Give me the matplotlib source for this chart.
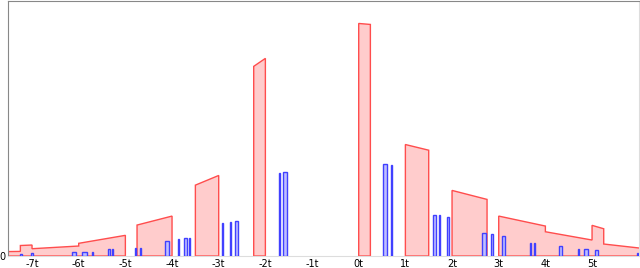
import matplotlib
matplotlib.use("Agg")
import matplotlib.pyplot as plt

# Tick positions (in units of t) and labels
tick_vals = [-7, -6, -5, -4, -3, -2, -1, 0, 1, 2, 3, 4, 5]
tick_labels = [f"{k}t" for k in tick_vals]

# Red filled regions: outline vertices (t, value)
red_left_t = [-7.7, -7.7, -7.25, -7.25, -7.0, -7.0, -6.0, -6.0, -5.0, -5.0]
red_left_v = [0, 4.3, 4.6, 10.5, 11.0, 7.3, 10.0, 12.7, 20.7, 0]

red_m4_t = [-4.75, -4.75, -4.0, -4.0]
red_m4_v = [0, 31, 40, 0]

red_m3_t = [-3.5, -3.5, -3.0, -3.0]
red_m3_v = [0, 71, 80.7, 0]

red_m2_t = [-2.25, -2.25, -2.0, -2.0]
red_m2_v = [0, 190, 198, 0]

red_0_t = [0.0, 0.0, 0.25, 0.25]
red_0_v = [0, 233, 232, 0]

red_1_t = [1.0, 1.0, 1.5, 1.5]
red_1_v = [0, 111.7, 106, 0]

red_2_t = [2.0, 2.0, 2.75, 2.75]
red_2_v = [0, 65.7, 56.7, 0]

red_right_t = [3.0, 3.0, 4.0, 4.0, 5.0, 5.0, 5.25, 5.25, 6.2, 6.2]
red_right_v = [0, 40, 30, 24.3, 16, 30.7, 27.3, 12.0, 7.0, 0]

red_regions = [
    (red_left_t, red_left_v), (red_m4_t, red_m4_v), (red_m3_t, red_m3_v),
    (red_m2_t, red_m2_v), (red_0_t, red_0_v), (red_1_t, red_1_v),
    (red_2_t, red_2_v), (red_right_t, red_right_v),
]

# Blue bars: left edge, right edge (t) and value
blue_left = [-7.268, -7.032, -6.143, -5.929, -5.725, -5.372, -5.297, -4.793, -4.697,
             -4.144, -3.876, -3.743, -3.641, -2.940, -2.758, -2.657, -1.712, -1.626,
             0.531, 0.692, 1.586, 1.716, 1.892, 2.636, 2.835, 3.071, 3.660, 3.756,
             4.285, 4.695, 4.828, 5.063, 5.959]
blue_right = [-7.225, -6.979, -6.068, -5.815, -5.693, -5.340, -5.265, -4.772, -4.665,
              -4.071, -3.851, -3.673, -3.615, -2.908, -2.726, -2.586, -1.686, -1.547,
              0.613, 0.724, 1.650, 1.742, 1.924, 2.728, 2.867, 3.135, 3.692, 3.788,
              4.356, 4.720, 4.920, 5.134, 5.995]
blue_vals = [2.5, 3, 4, 4, 4, 7, 7, 8.5, 8.5,
             15.3, 16.7, 17.7, 18, 32.7, 33.7, 34.7, 82.7, 84,
             91.7, 90.7, 41.3, 40.7, 39.3, 22.7, 21.7, 20.3, 12.7, 12.7,
             10.3, 7, 7, 6, 3.3]

fig = plt.figure(figsize=(6.4, 2.68), dpi=100)
ax = fig.add_axes([8 / 640, 12 / 268, 631 / 640, 255.5 / 268])

for tv, vv in red_regions:
    ax.fill(tv, vv, facecolor=(1.0, 0.8, 0.8), edgecolor=(1.0, 0.3, 0.3),
            linewidth=1.0, zorder=2)

widths = [r - l for l, r in zip(blue_left, blue_right)]
ax.bar(blue_left, blue_vals, width=widths, align="edge",
       facecolor=(0.75, 0.75, 1.0), edgecolor=(0.25, 0.25, 1.0),
       linewidth=1.0, zorder=3)

ax.set_xlim(-7.515, 6.006)
ax.set_ylim(0, 256)
ax.set_xticks(tick_vals)
ax.set_xticklabels(tick_labels)
ax.set_yticks([0])
ax.set_yticklabels(["0"])
ax.tick_params(axis="both", length=0, labelsize=7, pad=2)
for sp in ax.spines.values():
    sp.set_color("#888888")
    sp.set_linewidth(0.8)
ax.spines["bottom"].set_color("#dddddd")
ax.spines["right"].set_color("#dddddd")

fig.savefig("out.png", dpi=100)
